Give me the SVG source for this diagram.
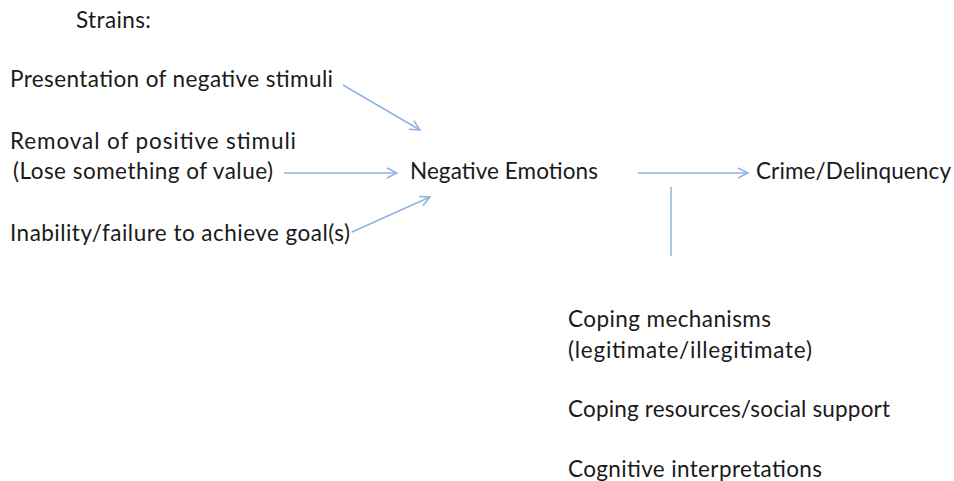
<svg xmlns="http://www.w3.org/2000/svg" width="954" height="481" viewBox="0 0 954 481">
<defs>
<style>
text{font-family:Lato,"Open Sans","Liberation Sans",sans-serif;font-size:22.5px;fill:#1a1a1a}
.c{stroke:#8db3e2;stroke-width:1.5;fill:none}
</style>
<marker id="ah" viewBox="0 0 12 12" refX="11" refY="6" markerWidth="12" markerHeight="12" markerUnits="userSpaceOnUse" orient="auto">
<path d="M1,1 L11,6 L1,11" fill="none" stroke="#8db3e2" stroke-width="1.5"/>
</marker>
</defs>
<rect width="954" height="481" fill="#ffffff"/>
<g id="strains"><text x="76" y="28" textLength="75" lengthAdjust="spacing">Strains:</text></g>
<g id="presentation"><text x="10" y="87" textLength="323" lengthAdjust="spacing">Presentation of negative stimuli</text></g>
<g id="removal"><text x="10" y="149" textLength="286" lengthAdjust="spacing">Removal of positive stimuli</text><text x="13" y="179" textLength="260" lengthAdjust="spacing">(Lose something of value)</text></g>
<g id="inability"><text x="10" y="241" textLength="340" lengthAdjust="spacing">Inability/failure to achieve goal(s)</text></g>
<g id="negemo"><text x="410" y="179" textLength="188" lengthAdjust="spacing">Negative Emotions</text></g>
<g id="crime"><text x="756" y="179" textLength="195" lengthAdjust="spacing">Crime/Delinquency</text></g>
<g id="coping"><text x="568" y="327" textLength="203" lengthAdjust="spacing">Coping mechanisms</text><text x="568" y="358" textLength="244" lengthAdjust="spacing">(legitimate/illegitimate)</text><text x="568" y="417" textLength="322" lengthAdjust="spacing">Coping resources/social support</text><text x="568" y="477" textLength="254" lengthAdjust="spacing">Cognitive interpretations</text></g>
<g id="connectors">
<line class="c" x1="343" y1="85" x2="420" y2="130" marker-end="url(#ah)"/>
<line class="c" x1="284" y1="173" x2="397" y2="173" marker-end="url(#ah)"/>
<line class="c" x1="352" y1="232" x2="430" y2="197" marker-end="url(#ah)"/>
<line class="c" x1="638" y1="173" x2="748" y2="173" marker-end="url(#ah)"/>
<line class="c" x1="671" y1="187" x2="671" y2="256"/>
</g>
</svg>
